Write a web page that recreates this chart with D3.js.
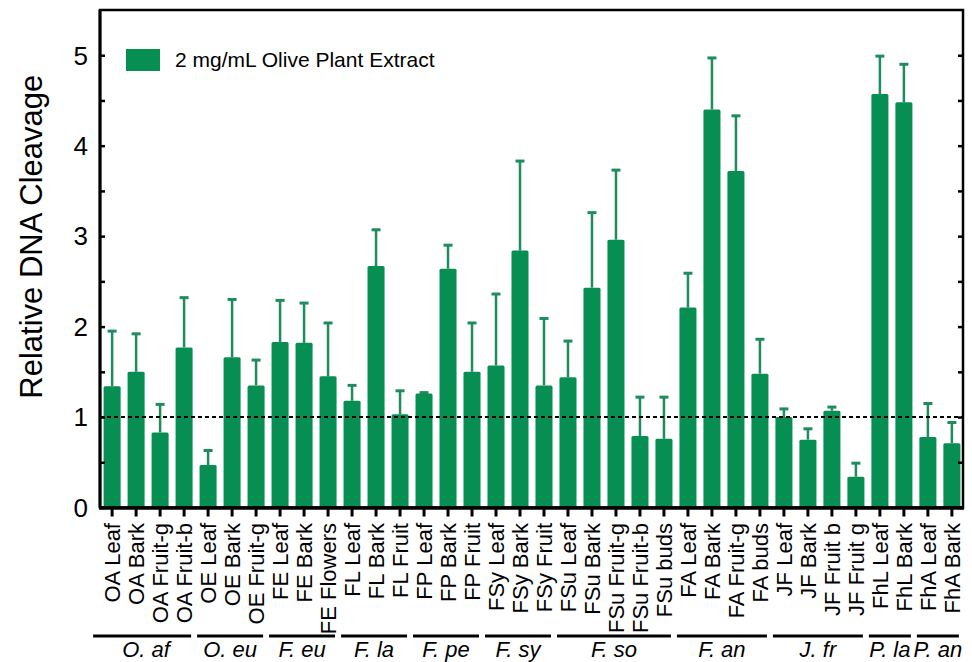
<!DOCTYPE html>
<html>
<head>
<meta charset="utf-8">
<script src="https://cdn.jsdelivr.net/npm/d3@7"></script>
<style>
  html, body { margin: 0; padding: 0; background: #fff; }
  svg { display: block; font-family: "Liberation Sans", Arial, sans-serif; }
</style>
</head>
<body>
<svg id="chart" width="972" height="662"></svg>
<script>
const categories = ["OA Leaf","OA Bark","OA Fruit-g","OA Fruit-b","OE Leaf","OE Bark","OE Fruit-g",
  "FE Leaf","FE Bark","FE Flowers","FL Leaf","FL Bark","FL Fruit","FP Leaf","FP Bark","FP Fruit",
  "FSy Leaf","FSy Bark","FSy Fruit","FSu Leaf","FSu Bark","FSu Fruit-g","FSu Fruit-b","FSu buds",
  "FA Leaf","FA Bark","FA Fruit-g","FA buds","JF Leaf","JF Bark","JF Fruit b","JF Fruit g",
  "FhL Leaf","FhL Bark","FhA Leaf","FhA Bark"];
const values = [1.34,1.50,0.83,1.77,0.47,1.66,1.35,
  1.83,1.82,1.45,1.18,2.67,1.03,1.26,2.64,1.50,
  1.57,2.84,1.35,1.44,2.43,2.96,0.79,0.76,
  2.21,4.40,3.72,1.48,1.00,0.75,1.07,0.34,
  4.57,4.48,0.78,0.71];
const upperErr = [1.95,1.92,1.14,2.32,0.63,2.30,1.63,
  2.29,2.26,2.04,1.35,3.07,1.29,1.27,2.90,2.04,
  2.36,3.83,2.09,1.84,3.26,3.73,1.22,1.22,
  2.59,4.97,4.33,1.86,1.09,0.87,1.11,0.49,
  4.99,4.90,1.15,0.94];
const groupNames = ["O. af","O. eu","F. eu","F. la","F. pe","F. sy","F. so","F. an","J. fr","P. la","P. an"];
const groupSizes = [4,3,3,3,3,3,5,4,4,2,2];
const yTicks = [0,1,2,3,4,5];
const yMinorTicks = [0.5,1.5,2.5,3.5,4.5];
const legendLabel = "2 mg/mL Olive Plant Extract";
const yTitle = "Relative DNA Cleavage";
const refLine = 1;

(function () {
const svg = d3.select("#chart");
const plotL = 100, plotR = 963, plotT = 10, plotB = 507.5;
const barColor = "#078e52", errColor = "#1e8c5c";

const x = d3.scaleBand().domain(categories).range([plotL, 964]).paddingInner(0.29).paddingOuter(0.15);
const y = d3.scaleLinear().domain([0, 5.5]).range([plotB, plotT]);
const cx = c => x(c) + x.bandwidth() / 2;

const data = categories.map((c, i) => ({c, v: values[i], e: upperErr[i]}));

// error bars (behind bars)
const eg = svg.append("g");
eg.selectAll("line.stem").data(data).join("line").attr("class", "stem")
  .attr("x1", d => cx(d.c)).attr("x2", d => cx(d.c))
  .attr("y1", d => y(d.v)).attr("y2", d => y(d.e))
  .attr("stroke", errColor).attr("stroke-width", 2.5);
eg.selectAll("line.cap").data(data).join("line").attr("class", "cap")
  .attr("x1", d => cx(d.c) - 4.5).attr("x2", d => cx(d.c) + 4.5)
  .attr("y1", d => y(d.e)).attr("y2", d => y(d.e))
  .attr("stroke", errColor).attr("stroke-width", 3);

// bars
svg.append("g").selectAll("rect").data(data).join("rect")
  .attr("x", d => x(d.c)).attr("width", x.bandwidth())
  .attr("y", d => y(d.v)).attr("height", d => y(0) - y(d.v))
  .attr("rx", 1.5)
  .attr("fill", barColor);

// reference dashed line
svg.append("line")
  .attr("x1", plotL).attr("x2", plotR).attr("y1", y(refLine)).attr("y2", y(refLine))
  .attr("stroke", "#000").attr("stroke-width", 2).attr("stroke-dasharray", "4,3");

// frame
svg.append("rect").attr("x", plotL).attr("y", plotT).attr("width", plotR - plotL).attr("height", plotB - plotT)
  .attr("fill", "none").attr("stroke", "#000").attr("stroke-width", 2.5);
svg.append("line").attr("x1", plotL - 1).attr("x2", plotR + 1).attr("y1", plotB + 0.5).attr("y2", plotB + 0.5)
  .attr("stroke", "#000").attr("stroke-width", 3.5);
svg.append("line").attr("x1", plotL).attr("x2", plotL).attr("y1", plotT).attr("y2", plotB)
  .attr("stroke", "#000").attr("stroke-width", 3);

// y axis (inward ticks) left and right
const gyl = svg.append("g").attr("transform", `translate(${plotL},0)`)
  .call(d3.axisRight(y).tickValues(yTicks.concat(yMinorTicks)).tickSize(5).tickFormat(""));
gyl.select(".domain").remove();
gyl.selectAll(".tick line").attr("stroke-width", 2.5);

const gyr = svg.append("g").attr("transform", `translate(${plotR},0)`)
  .call(d3.axisLeft(y).tickValues(yTicks.concat(yMinorTicks)).tickSize(5).tickFormat(""));
gyr.select(".domain").remove();
gyr.selectAll(".tick line").attr("stroke-width", 2.5);

// y tick labels
svg.append("g").selectAll("text").data(yTicks).join("text")
  .attr("x", 88).attr("y", d => y(d)).attr("dy", "0.36em")
  .attr("text-anchor", "end").attr("font-size", 26).attr("fill", "#000")
  .text(d => d);

// y title
svg.append("text")
  .attr("transform", `translate(42,${(plotT+plotB)/2 - 22}) rotate(-90)`)
  .attr("text-anchor", "middle").attr("font-size", 31).attr("fill", "#000")
  .text(yTitle);

// x axis ticks (outward)
const gx = svg.append("g").attr("transform", `translate(0,${plotB})`)
  .call(d3.axisBottom(x).tickSize(9).tickFormat(""));
gx.select(".domain").remove();
gx.selectAll(".tick line").attr("stroke-width", 3);

// x labels rotated
svg.append("g").selectAll("text").data(categories).join("text")
  .attr("transform", d => `translate(${cx(d)},523) rotate(-90)`)
  .attr("text-anchor", "end").attr("dy", "0.36em")
  .attr("font-size", 22).attr("fill", "#000")
  .text(d => d);

// group lines and labels
let idx = 0;
const groups = groupNames.map((g, i) => {
  const first = categories[idx], last = categories[idx + groupSizes[i] - 1];
  idx += groupSizes[i];
  return {g, first, last, i};
});
const gg = svg.append("g");
gg.selectAll("line").data(groups).join("line")
  .attr("x1", d => cx(d.first) - (d.i === 0 ? 19 : 11))
  .attr("x2", d => cx(d.last) + 7)
  .attr("y1", 636).attr("y2", 636)
  .attr("stroke", "#000").attr("stroke-width", 3);
gg.selectAll("text").data(groups).join("text")
  .attr("x", d => (cx(d.first) + cx(d.last)) / 2 - 2)
  .attr("y", 657)
  .attr("text-anchor", "middle").attr("font-size", 22).attr("font-style", "italic").attr("fill", "#000")
  .text(d => d.g);

// legend
svg.append("rect").attr("x", 126).attr("y", 49).attr("width", 34).attr("height", 22).attr("fill", barColor);
svg.append("text").attr("x", 175).attr("y", 67).attr("font-size", 21).attr("fill", "#000")
  .text(legendLabel);
})();
</script>
</body>
</html>
